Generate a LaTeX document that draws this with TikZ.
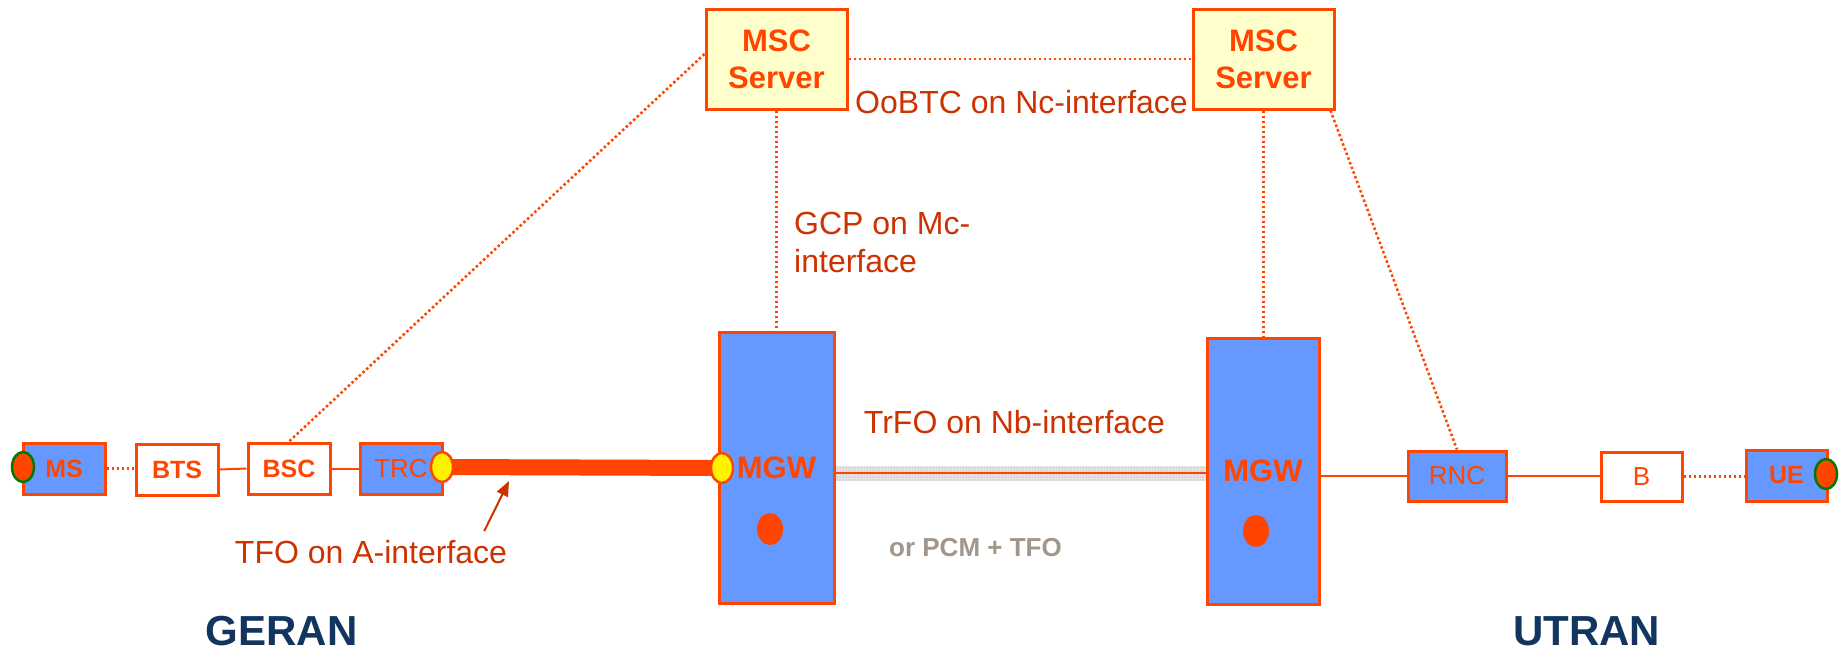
\documentclass[tikz,border=0pt]{standalone}
\usepackage{fontspec}
\setmainfont{Liberation Sans}
\usetikzlibrary{arrows.meta,patterns,calc,shapes.geometric,backgrounds}
\definecolor{ored}{HTML}{FF4500}
\definecolor{lblue}{HTML}{6699FF}
\definecolor{mscfill}{HTML}{FFFFCC}
\definecolor{lbl}{HTML}{CC3300}
\definecolor{navy}{HTML}{12355F}
\definecolor{pcmgray}{HTML}{A0968C}
\definecolor{dgreen}{HTML}{007A00}
\definecolor{bandgray}{HTML}{E4E4E4}
\begin{document}
\begin{tikzpicture}[x=1pt,y=-1pt,
  netbox/.style={draw=ored, line width=3pt, text=ored, inner sep=0pt, font=\fontsize{26}{30}\selectfont},
  bluebox/.style={netbox, fill=lblue},
  whitebox/.style={netbox, fill=white},
  boldtxt/.style={font=\bfseries\fontsize{25}{30}\selectfont},
  smallbox/.style={minimum width=82pt, minimum height=51pt},
  mscbox/.style={netbox, fill=mscfill, align=center, font=\bfseries\fontsize{31}{37}\selectfont, minimum width=141pt, minimum height=100pt},
  mgwbox/.style={bluebox, font=\bfseries\fontsize{31}{37}\selectfont},
  port/.style={ellipse, minimum width=22pt, minimum height=30pt, line width=2.5pt, inner sep=0pt},
  link/.style={draw=ored, line width=2pt},
  dotlink/.style={draw=ored, line width=2.5pt, dash pattern=on 2.5pt off 2.5pt},
  lab/.style={text=lbl, font=\fontsize{32}{38}\selectfont, inner sep=0pt},
  region/.style={text=navy, font=\bfseries\fontsize{42}{48}\selectfont, inner sep=0pt}
]
\useasboundingbox (0,0) rectangle (1839,651);

% GERAN side
\node[bluebox, smallbox, boldtxt] (ms) at (64,468.5) {MS};
\node[whitebox, smallbox, boldtxt] (bts) at (177,469.5) {BTS};
\node[whitebox, smallbox, boldtxt] (bsc) at (289,468.5) {BSC};
\node[bluebox, smallbox] (trc) at (401,468.5) {TRC};

% MGWs
\node[mgwbox, minimum width=115pt, minimum height=271pt] (mgwL) at (776.5,467.5) {MGW};
\node[mgwbox, minimum width=112pt, minimum height=266pt] (mgwR) at (1263,471) {MGW};
\fill[ored] (770,529) ellipse [x radius=13, y radius=16];
\fill[ored] (1256,531) ellipse [x radius=13, y radius=16];

% MSC servers
\node[mscbox] (mscL) at (776.5,59) {MSC\\Server};
\node[mscbox] (mscR) at (1263.5,59) {MSC\\Server};

% UTRAN side
\node[bluebox, minimum width=98pt, minimum height=50pt] (rnc) at (1457,476) {RNC};
\node[whitebox, minimum width=81pt, minimum height=49pt] (b) at (1641.5,476.5) {B};
\node[bluebox, boldtxt, minimum width=81pt, minimum height=51pt] (ue) at (1786.5,475.5) {UE};

% ports
\node[port, draw=dgreen, fill=ored] (msport) at (23,467) {};
\node[port, draw=ored, fill=yellow] (trcport) at (442,467) {};
\node[port, draw=ored, fill=yellow] (mgwport) at (722,468) {};
\node[port, draw=dgreen, fill=ored] (ueport) at (1826,474) {};

% labels
\node[lab] (oobtc) at (1021.5,102) {OoBTC on Nc-interface};
\node[lab, anchor=north west, align=left] (gcp) at (794,212) {GCP on Mc-\\interface};
\node[lab] (trfo) at (1014.5,422) {TrFO on Nb-interface};
\node[text=pcmgray, font=\bfseries\fontsize{26}{30}\selectfont, inner sep=0pt] (pcm) at (975.5,548) {or PCM + TFO};
\node[lab] (tfo) at (371,552) {TFO on A-interface};
\node[region] (geran) at (281.5,631) {GERAN};
\node[region] (utran) at (1586.5,631) {UTRAN};

\coordinate (atip) at (509,481);
\coordinate (nbTop) at ($(mgwR.west)+(0,-5)$);
\coordinate (nbBot) at ($(mgwR.west)+(0,10)$);
\coordinate (nbMid) at ($(mgwR.west)+(0,2)$);

\begin{scope}[on background layer]
  \fill[white] (0,0) rectangle (1839,651);
  % A-interface
  \draw[ored, line width=16pt] (trcport.center) -- (mgwport.center);
  % GERAN links
  \draw[dotlink] (ms.east) -- (ms.east -| bts.west);
  \draw[link] (bts.east) -- (bsc.west);
  \draw[link] (bsc.east) -- (trc.west);
  % Nb interface
  \fill[bandgray] (mgwL.east |- nbTop) rectangle (nbBot);
  \fill[pattern=dots, pattern color=gray!80] (mgwL.east |- nbTop) rectangle (nbBot);
  \draw[ored, line width=2.5pt] (mgwL.east |- nbMid) -- (nbMid);
  % UTRAN links
  \draw[link] (rnc.west -| mgwR.east) -- (rnc.west);
  \draw[link] (rnc.east) -- (rnc.east -| b.west);
  \draw[dotlink] (b.east) -- (b.east -| ue.west);
  % signalling
  \draw[dotlink] (mscL.east) -- (mscR.west);
  \draw[dotlink] ([yshift=5pt]mscL.west) -- (bsc.north);
  \draw[dotlink] (mscL.south) -- (mgwL.north);
  \draw[dotlink] (mscR.south) -- (mscR.south |- mgwR.north);
  \draw[dotlink] ([xshift=-5pt]mscR.south east) -- (rnc.north);
\end{scope}

% arrow to A-interface
\draw[lbl, line width=2pt, -{Triangle[length=15pt,width=12pt]}] ($(tfo.north east)+(-23,-9)$) -- (atip);
\end{tikzpicture}
\end{document}
